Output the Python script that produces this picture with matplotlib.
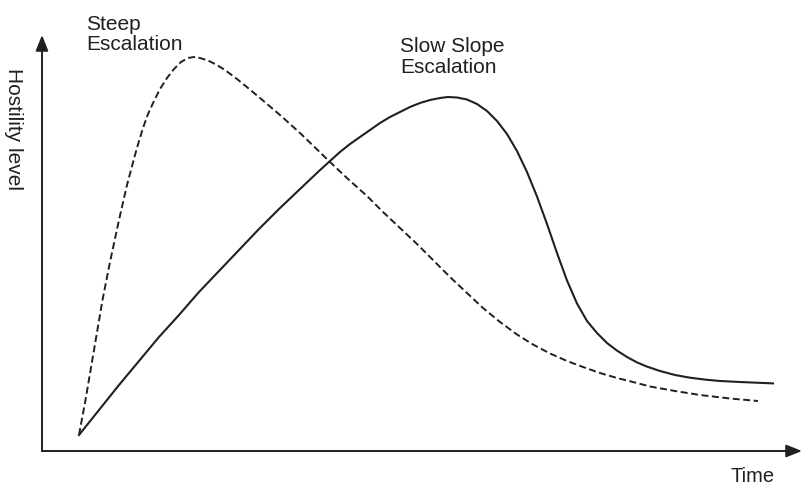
import matplotlib
matplotlib.use("Agg")
import matplotlib.pyplot as plt
from matplotlib.patches import ArrowStyle

plt.rcParams['font.family'] = ['Liberation Sans', 'DejaVu Sans']

# Steep escalation (dashed) – time vs hostility (arbitrary units)
steep_time = [37, 43.5, 52, 60.5, 68, 77, 85, 93, 97, 101, 106, 112, 118, 125, 132, 139,
              146, 152, 158, 166, 174, 183, 195, 206, 218, 228, 238, 248, 258, 273, 288,
              306, 325, 341, 358, 375, 391, 408, 425, 441, 458, 475, 491, 508, 525, 541,
              558, 575, 591, 608, 633, 658, 688, 716]
steep_level = [16, 51, 101, 151, 189, 231, 266, 296, 310, 323, 337, 350, 362, 373, 382, 389,
               393, 394, 393, 390.5, 386.5, 381, 372, 363, 353, 344.5, 336, 327, 318, 303.5,
               289, 272, 255, 239, 223, 207, 191, 174, 158, 143, 129, 116.5, 106.5, 97.5,
               90, 84, 78, 73, 69, 64.5, 60, 56, 52.5, 50]

# Slow slope escalation (solid)
slow_time = [37, 57, 77, 97, 117, 137, 157, 177, 197, 217, 237, 257, 277, 288, 298, 308,
             318, 328, 338, 348, 358, 368, 378, 388, 398, 406, 415, 425, 435, 445, 455,
             465, 475, 485, 495, 505, 515, 525, 535, 545, 555, 565, 575, 585, 595, 605,
             618, 633, 648, 663, 678, 698, 731]
slow_level = [16, 41, 66, 90, 114, 136, 159, 180, 201, 222, 242, 261, 280, 290, 299, 307,
              314, 321, 328, 334, 339, 344, 348, 351, 353, 354, 353.5, 351.5, 347, 340, 330,
              317, 300, 279, 254.5, 227, 198, 170.5, 147.5, 130, 118, 108, 100.4, 94, 88.6,
              84.4, 80, 76, 73.3, 71.4, 70, 69, 67.6]

label_steep = "Steep\nEscalation"
label_slow = "Slow Slope\nEscalation"
x_label = "Time"
y_label = "Hostility level"

ink = '#231f20'
W, H = 802, 487
fig = plt.figure(figsize=(W / 100, H / 100), dpi=100)
ax = fig.add_axes([42 / W, 36 / H, 760 / W, 416 / H])
ax.set_xlim(0, 760)
ax.set_ylim(0, 416)
ax.axis('off')

ax.plot(steep_time, steep_level, color=ink, lw=1.4, dashes=[3.6, 1.8], clip_on=False)
ax.plot(slow_time, slow_level, color=ink, lw=1.5, clip_on=False)

style = ArrowStyle('-|>', head_length=0.95, head_width=0.38)
ax.annotate('', xy=(1, 0), xytext=(0, 0), xycoords='axes fraction',
            arrowprops=dict(arrowstyle=style, lw=1.4, color=ink, mutation_scale=10,
                            shrinkA=0, shrinkB=0))
ax.annotate('', xy=(0, 1), xytext=(0, 0), xycoords='axes fraction',
            arrowprops=dict(arrowstyle=style, lw=1.4, color=ink, mutation_scale=10,
                            shrinkA=0, shrinkB=0))

fs = 15
fig.text(86 / W, 1 - 50 / H, label_steep, fontsize=fs, color=ink, ha='left', va='baseline',
         linespacing=1.1)
fig.text(400 / W, 1 - 73 / H, label_slow, fontsize=fs, color=ink, ha='left', va='baseline',
         linespacing=1.1)
fig.text(775 / W, 1 - 482 / H, x_label, fontsize=14.5, color=ink, ha='right', va='baseline')
fig.text(13 / W, 1 - 129 / H, y_label, fontsize=15, color=ink, ha='center', va='center',
         rotation=270)

fig.savefig('out.png', dpi=100, facecolor='white')
